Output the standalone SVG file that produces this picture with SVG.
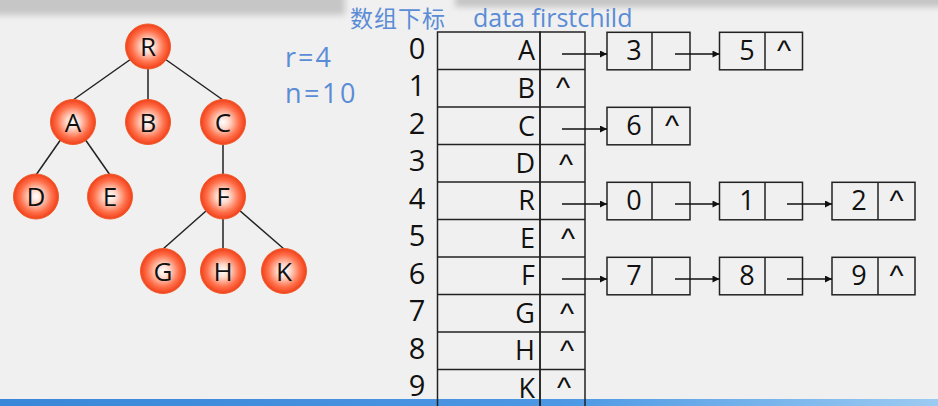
<svg xmlns="http://www.w3.org/2000/svg" width="938" height="406" viewBox="0 0 938 406">
<defs>
  <radialGradient id="ball" cx="50%" cy="50%" r="50%">
    <stop offset="0" stop-color="#ffffff"/>
    <stop offset="0.3" stop-color="#ffd6c8"/>
    <stop offset="0.72" stop-color="#ff6e48"/>
    <stop offset="1" stop-color="#f0401a"/>
  </radialGradient>
  <linearGradient id="bottomBand" x1="0" y1="0" x2="1" y2="0">
    <stop offset="0" stop-color="#3a86d8"/>
    <stop offset="0.6" stop-color="#4c98e4"/>
    <stop offset="1" stop-color="#9ccbf2"/>
  </linearGradient>
  <filter id="blur" x="-5%" y="-50%" width="110%" height="200%">
    <feGaussianBlur stdDeviation="3"/>
  </filter>
  <marker id="arr" viewBox="0 0 10 10" refX="10" refY="5" markerWidth="8" markerHeight="7" markerUnits="userSpaceOnUse" orient="auto">
    <path d="M0,0 L10,5 L0,10 z" fill="#111"/>
  </marker>
  <style>
    .node circle { fill: url(#ball); stroke: #f05a2a; stroke-width: 1; }
    .node text { font-family: "Open Sans", "Noto Sans", sans-serif; font-size: 26px; fill: #111; text-anchor: middle; }
    .edge { stroke: #222; stroke-width: 1.5; fill: none; }
    .cell { fill: none; stroke: #222; stroke-width: 1.5; }
    .idx { font-family: "Open Sans", "Noto Sans", sans-serif; font-size: 29px; fill: #111; text-anchor: middle; }
    .dat { font-family: "Open Sans", "Noto Sans", sans-serif; font-size: 27px; fill: #111; text-anchor: end; }
    .num { font-family: "Open Sans", "Noto Sans", sans-serif; font-size: 27px; fill: #111; text-anchor: middle; }
    .nul { font-family: "Liberation Sans", "Open Sans", sans-serif; font-size: 30px; fill: #111; text-anchor: middle; }
    .blue { font-family: "Open Sans", "Noto Sans", "Noto Sans CJK SC", sans-serif; fill: #5b8cd6; }
    .ptr { stroke: #111; stroke-width: 1.3; fill: none; marker-end: url(#arr); }
  </style>
</defs>
<rect x="0" y="0" width="938" height="406" fill="#f0f0f0"/>
<!-- top blurred band -->
<g filter="url(#blur)">
  <rect x="-10" y="-6" width="355" height="21" fill="#c6c6c6"/>
  <rect x="455" y="-6" width="500" height="13" fill="#c4c4c4"/>
</g>
<!-- bottom band -->
<rect x="0" y="399" width="938" height="7" fill="url(#bottomBand)"/>

<!-- labels -->
<text class="blue" x="350" y="26.6" font-size="23" letter-spacing="1" font-family="'Noto Sans CJK SC', sans-serif">数组下标</text>
<text class="blue" x="473" y="27" font-size="25">data firstchild</text>
<text class="blue" x="285" y="67" font-size="27" letter-spacing="2">r=4</text>
<text class="blue" x="285" y="103" font-size="27" letter-spacing="2.5">n=10</text>

<!-- tree edges -->
<g id="tree-edges">
  <line class="edge" x1="148" y1="47" x2="73" y2="100"/>
  <line class="edge" x1="148" y1="47" x2="148" y2="100"/>
  <line class="edge" x1="148" y1="47" x2="223" y2="100"/>
  <line class="edge" x1="73" y1="122" x2="36" y2="175"/>
  <line class="edge" x1="73" y1="122" x2="110" y2="175"/>
  <line class="edge" x1="223" y1="122" x2="223" y2="175"/>
  <line class="edge" x1="223" y1="196" x2="163" y2="249"/>
  <line class="edge" x1="223" y1="196" x2="223" y2="249"/>
  <line class="edge" x1="223" y1="196" x2="284" y2="249"/>
</g>
<!-- tree nodes -->
<g id="node-R" class="node"><circle cx="148" cy="46.5" r="22.5"/><text x="148" y="56">R</text></g>
<g id="node-A" class="node"><circle cx="73" cy="122" r="22.5"/><text x="73" y="131.5">A</text></g>
<g id="node-B" class="node"><circle cx="148" cy="122" r="22.5"/><text x="148" y="131.5">B</text></g>
<g id="node-C" class="node"><circle cx="223" cy="122" r="22.5"/><text x="223" y="131.5">C</text></g>
<g id="node-D" class="node"><circle cx="36" cy="196.5" r="22.5"/><text x="36" y="206">D</text></g>
<g id="node-E" class="node"><circle cx="110" cy="196.5" r="22.5"/><text x="110" y="206">E</text></g>
<g id="node-F" class="node"><circle cx="223" cy="196.5" r="22.5"/><text x="223" y="206">F</text></g>
<g id="node-G" class="node"><circle cx="163" cy="271" r="22.5"/><text x="163" y="280.5">G</text></g>
<g id="node-H" class="node"><circle cx="223" cy="271" r="22.5"/><text x="223" y="280.5">H</text></g>
<g id="node-K" class="node"><circle cx="284" cy="271" r="22.5"/><text x="284" y="280.5">K</text></g>

<!-- table -->
<g id="table">
  <rect class="cell" x="437.5" y="32" width="102.5" height="375"/>
  <rect class="cell" x="540" y="32" width="45" height="375"/>
  <path class="cell" d="M437.5,69.5H585 M437.5,107H585 M437.5,144.5H585 M437.5,182H585 M437.5,219.5H585 M437.5,257H585 M437.5,294.5H585 M437.5,332H585 M437.5,369.5H585"/>
  <g class="idxs">
    <text class="idx" x="417" y="59" font-family="'Liberation Sans', sans-serif">0</text>
    <text class="idx" x="417" y="96">1</text>
    <text class="idx" x="417" y="133.5">2</text>
    <text class="idx" x="417" y="171">3</text>
    <text class="idx" x="417" y="208.5">4</text>
    <text class="idx" x="417" y="246">5</text>
    <text class="idx" x="417" y="283.5">6</text>
    <text class="idx" x="417" y="321">7</text>
    <text class="idx" x="417" y="358.5">8</text>
    <text class="idx" x="417" y="396">9</text>
  </g>
  <g class="data">
    <text class="dat" x="535" y="60">A</text>
    <text class="dat" x="535" y="97.5">B</text>
    <text class="dat" x="535" y="136">C</text>
    <text class="dat" x="535" y="173">D</text>
    <text class="dat" x="535" y="210">R</text>
    <text class="dat" x="535" y="247.5">E</text>
    <text class="dat" x="535" y="285">F</text>
    <text class="dat" x="535" y="322.5">G</text>
    <text class="dat" x="535" y="360">H</text>
    <text class="dat" x="535" y="397.5">K</text>
  </g>
  <g class="nulls">
    <text class="nul" x="563" y="98">^</text>
    <text class="nul" x="566" y="175">^</text>
    <text class="nul" x="568" y="249">^</text>
    <text class="nul" x="567" y="324">^</text>
    <text class="nul" x="567" y="361">^</text>
    <text class="nul" x="564" y="398">^</text>
  </g>
</g>

<!-- linked list nodes -->
<g id="list-0-3"><rect class="cell" x="607" y="32.3" width="83" height="37.5"/><line class="cell" x1="652" y1="32.3" x2="652" y2="69.8"/><text class="num" x="634" y="59.5">3</text></g>
<g id="list-0-5"><rect class="cell" x="719.5" y="32.3" width="83" height="37.5"/><line class="cell" x1="765" y1="32.3" x2="765" y2="69.8"/><text class="num" x="747" y="59.5">5</text><text class="nul" x="784" y="61">^</text></g>
<g id="list-2-6"><rect class="cell" x="607" y="107.3" width="83" height="37.5"/><line class="cell" x1="652" y1="107.3" x2="652" y2="144.8"/><text class="num" x="634" y="134.5">6</text><text class="nul" x="672" y="136">^</text></g>
<g id="list-4-0"><rect class="cell" x="607" y="182.3" width="83" height="37.5"/><line class="cell" x1="652" y1="182.3" x2="652" y2="219.8"/><text class="num" x="634" y="209.5">0</text></g>
<g id="list-4-1"><rect class="cell" x="719.5" y="182.3" width="83" height="37.5"/><line class="cell" x1="765" y1="182.3" x2="765" y2="219.8"/><text class="num" x="747" y="209.5">1</text></g>
<g id="list-4-2"><rect class="cell" x="832" y="182.3" width="83" height="37.5"/><line class="cell" x1="878" y1="182.3" x2="878" y2="219.8"/><text class="num" x="859" y="209.5">2</text><text class="nul" x="896.5" y="211">^</text></g>
<g id="list-6-7"><rect class="cell" x="607" y="257.3" width="83" height="37.5"/><line class="cell" x1="652" y1="257.3" x2="652" y2="294.8"/><text class="num" x="634" y="284.5">7</text></g>
<g id="list-6-8"><rect class="cell" x="719.5" y="257.3" width="83" height="37.5"/><line class="cell" x1="765" y1="257.3" x2="765" y2="294.8"/><text class="num" x="747" y="284.5">8</text></g>
<g id="list-6-9"><rect class="cell" x="832" y="257.3" width="83" height="37.5"/><line class="cell" x1="878" y1="257.3" x2="878" y2="294.8"/><text class="num" x="859" y="284.5">9</text><text class="nul" x="896.5" y="286">^</text></g>

<!-- pointers -->
<g id="connectors">
  <line class="ptr" x1="562" y1="54" x2="607" y2="54"/>
  <line class="ptr" x1="675" y1="54" x2="719.5" y2="54"/>
  <line class="ptr" x1="562" y1="129" x2="607" y2="129"/>
  <line class="ptr" x1="562" y1="204" x2="607" y2="204"/>
  <line class="ptr" x1="675" y1="204" x2="719.5" y2="204"/>
  <line class="ptr" x1="787" y1="204" x2="832" y2="204"/>
  <line class="ptr" x1="562" y1="279" x2="607" y2="279"/>
  <line class="ptr" x1="675" y1="279" x2="719.5" y2="279"/>
  <line class="ptr" x1="787" y1="279" x2="832" y2="279"/>
</g>
</svg>
